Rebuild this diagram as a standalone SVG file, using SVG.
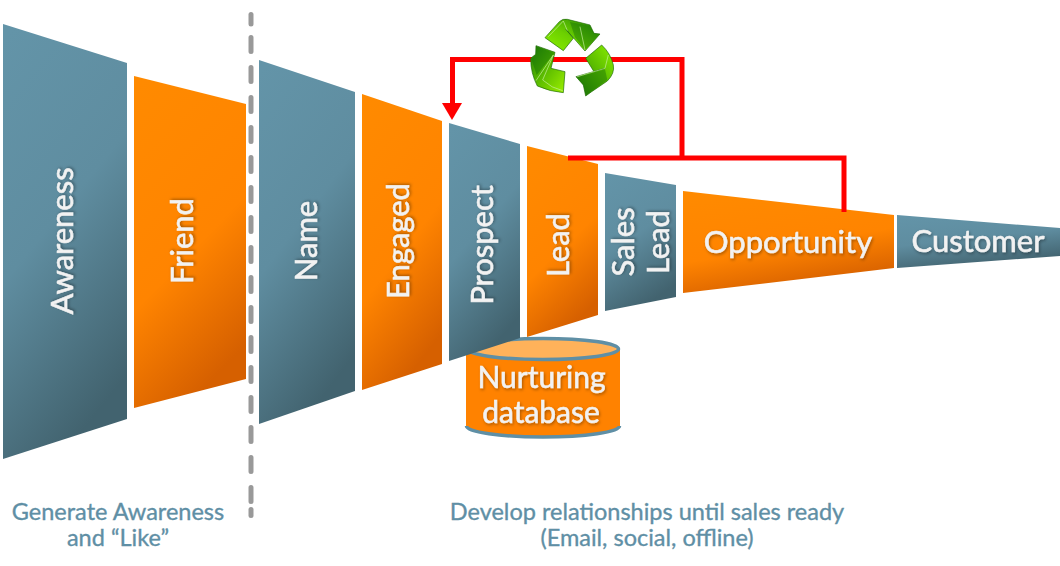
<svg xmlns="http://www.w3.org/2000/svg" width="1060" height="566" viewBox="0 0 1060 566">
<style>
text{font-family:Lato,"Open Sans",sans-serif;text-anchor:middle}
.l{fill:#f2f2f2;stroke:#f2f2f2;stroke-width:.55px;font-size:31px;filter:url(#ts)}
.c{fill:#5f8fa5;stroke:#5f8fa5;stroke-width:.35px;font-size:23.5px}
.t{fill:url(#teal)}
.o{fill:url(#orange)}
.red{fill:none;stroke:#f00;stroke-width:5}
.dash{fill:none;stroke:#999;stroke-width:5;stroke-linecap:round}
.rc{stroke:#1c6a08;stroke-width:2}
.sh{fill:#0f6a05;opacity:.4}
.hi{fill:none;stroke:#c8f0a0;stroke-width:2}
</style>
<defs>
<linearGradient id="teal" x1="0.1" y1="0" x2="0.45" y2="1"><stop offset="0" stop-color="#6394a8"/><stop offset=".5" stop-color="#5f8da0"/><stop offset="1" stop-color="#42636f"/></linearGradient>
<linearGradient id="orange" x1="0.1" y1="0" x2="0.45" y2="1"><stop offset="0" stop-color="#ff8a00"/><stop offset=".6" stop-color="#ff8400"/><stop offset="1" stop-color="#d66000"/></linearGradient>
<linearGradient id="g1" x1="0" y1="1" x2="1" y2="0"><stop offset="0" stop-color="#8cf000"/><stop offset=".45" stop-color="#6cd000"/><stop offset="1" stop-color="#1f8008"/></linearGradient>
<linearGradient id="g2" x1="1" y1="0" x2="0" y2="1"><stop offset="0" stop-color="#8cf000"/><stop offset=".5" stop-color="#58b800"/><stop offset="1" stop-color="#1f7a08"/></linearGradient>
<linearGradient id="g3" x1="0" y1="0" x2="1" y2="1"><stop offset="0" stop-color="#1f8008"/><stop offset=".5" stop-color="#5cbc00"/><stop offset="1" stop-color="#9cf000"/></linearGradient>
<filter id="ts" x="-20%" y="-20%" width="140%" height="140%"><feDropShadow dx="1" dy="1.500" stdDeviation="1.500" flood-color="#000" flood-opacity=".35"/></filter>
</defs>
<g id="divider">
<path class="dash" d="M251 14.500V24"/>
<path class="dash" d="M251 37.500V502" stroke-dasharray="14 16"/>
<path class="dash" d="M251 509.500V515.500"/>
</g>
<g id="nurturing-database">
<path d="M466 349V426A77 12 0 0 0 620 426V349Z" fill="#ff8200"/>
<path d="M466.500 426A76.500 11 0 0 0 619.500 426" fill="none" stroke="#5f8fa5" stroke-width="3.500"/>
<ellipse cx="543" cy="349" rx="75.500" ry="10.500" fill="#ffb25a" stroke="#5f8fa5" stroke-width="3.500"/>
<text class="l" style="font-size:30px" x="541.500" y="388">Nurturing</text>
<text class="l" style="font-size:30px" x="541" y="423">database</text>
</g>
<g id="awareness"><polygon class="t" points="3,24 127,63 127,419 3,459"/><text class="l" transform="translate(73,241) rotate(-90)">Awareness</text></g>
<g id="friend"><polygon class="o" points="134,76 246,104 246,379 134,408"/><text class="l" transform="translate(193,241) rotate(-90)">Friend</text></g>
<g id="name"><polygon class="t" points="259,60 355,92 355,391 259,424"/><text class="l" transform="translate(317,241) rotate(-90)">Name</text></g>
<g id="engaged"><polygon class="o" points="362,94 442,121 442,364 362,390"/><text class="l" transform="translate(409,241) rotate(-90)">Engaged</text></g>
<g id="prospect"><polygon class="t" points="449,123 520,144 520,338 449,361"/><text class="l" transform="translate(493,245) rotate(-90)">Prospect</text></g>
<g id="lead"><polygon class="o" points="527,146 598,164 598,315 527,337"/><text class="l" transform="translate(569,245) rotate(-90)">Lead</text></g>
<g id="sales-lead"><polygon class="t" points="605,173 676,185 676,297 605,311"/><text class="l" transform="translate(634,242) rotate(-90)">Sales</text><text class="l" transform="translate(669,242) rotate(-90)">Lead</text></g>
<g id="opportunity"><polygon class="o" points="683,191 894,215 894,268 683,293"/><text class="l" x="788" y="253">Opportunity</text></g>
<g id="customer"><polygon class="t" points="897,215 1060,228 1060,256 897,268"/><text class="l" x="978" y="252">Customer</text></g>
<g id="connectors">
<path class="red" d="M568 158H844V212"/>
<path class="red" d="M682 158V59.500H452.500V104"/>
<polygon points="442,103 462,103 452,120" fill="#f00"/>
</g>
<g id="recycle" transform="translate(520 10) scale(.3333)">
<path class="rc" fill="url(#g1)" d="M75 83L118 35Q128 25 142 28L210 45L222 70L240 72L195 123L138 58L160 85L130 122Z"/>
<path class="sh" d="M150 36L210 47L222 70L238 73L195 120L165 82Z"/>
<path class="rc" fill="url(#g2)" d="M245 105Q272 130 280 165Q285 190 262 213L215 245L197 258L190 225L168 200L255 175L222 185L197 145Z"/>
<path class="sh" d="M255 178L262 210L215 243L198 256L190 226L172 202Z"/>
<path class="rc" fill="url(#g3)" d="M105 127L48 107L47 133L32 145Q32 190 52 228Q90 245 130 248L135 185L93 175Z"/>
<path class="sh" d="M103 129L50 110L47 135L34 147L50 195Z"/>
<path class="hi" d="M85 80L130 33L142 62M195 120L180 50M265 135L255 175L172 200M48 212L100 135L68 210Q95 235 128 242"/>
</g>
<g id="captions">
<text class="c" x="118" y="520">Generate Awareness</text>
<text class="c" x="118" y="546">and “Like”</text>
<text class="c" x="647" y="520">Develop relationships until sales ready</text>
<text class="c" x="647" y="546">(Email, social, offline)</text>
</g>
</svg>
